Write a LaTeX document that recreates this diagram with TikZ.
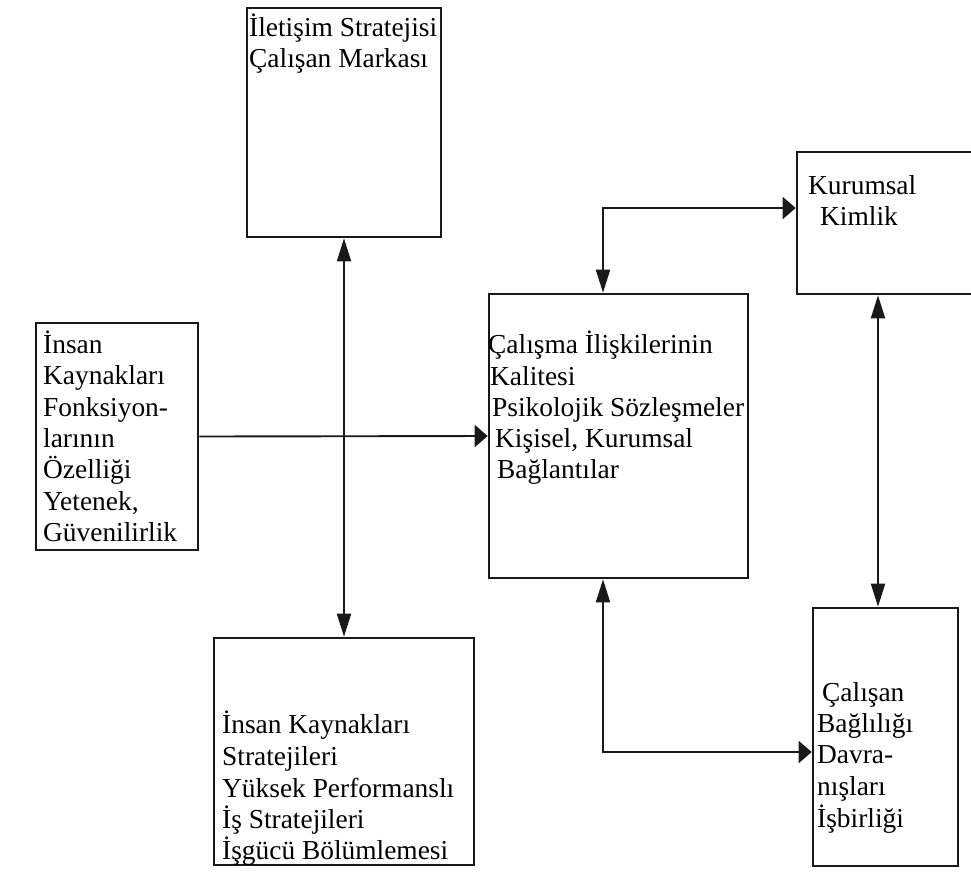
\documentclass[tikz,border=0pt]{standalone}
\usepackage{fontspec}
\setmainfont{Liberation Serif}
\usetikzlibrary{arrows.meta}
\begin{document}
\begin{tikzpicture}[x=1pt,y=-1pt,
  box/.style={draw=black!90, line width=2.6pt, rectangle, inner sep=0pt},
  txt/.style={anchor=base west, inner sep=0pt, font=\fontsize{27.4}{31.3}\selectfont},
  link/.style={line width=1.9pt, draw=black!90},
  vtip/.tip={Triangle[length=23pt,width=14pt]},
  htip/.tip={Triangle[length=13pt,width=22pt]}]
\useasboundingbox (0,0) rectangle (971,871);
\clip (0,0) rectangle (971,871);

% boxes
\node[box, minimum width=194pt, minimum height=229pt] (A) at (344,122.5) {};
\node[box, minimum width=162pt, minimum height=227pt] (B) at (117,436.5) {};
\node[box, minimum width=259pt, minimum height=284pt] (C) at (618.5,436) {};
\node[box, minimum width=188pt, minimum height=142pt] (D) at (891,223) {};
\node[box, minimum width=145pt, minimum height=258pt] (E) at (885.5,737) {};
\node[box, minimum width=260pt, minimum height=227pt] (F) at (344,751.5) {};

% texts
\node[txt] (a1) at (249,36) {İletişim Stratejisi};
\node[txt] (a2) at (249,67) {Çalışan Markası};

\node[txt] (b1) at (43,353) {İnsan};
\node[txt] (b2) at (43,384) {Kaynakları};
\node[txt] (b3) at (43,416) {Fonksiyon-};
\node[txt] (b4) at (43,447) {larının};
\node[txt] (b5) at (43,478) {Özelliği};
\node[txt] (b6) at (43,510) {Yetenek,};
\node[txt] (b7) at (43,541) {Güvenilirlik};

\node[txt] (c1) at (488,353) {Çalışma İlişkilerinin};
\node[txt] (c2) at (490,385) {Kalitesi};
\node[txt] (c3) at (492,416) {Psikolojik Sözleşmeler};
\node[txt] (c4) at (495,447) {Kişisel, Kurumsal};
\node[txt] (c5) at (497,478) {Bağlantılar};

\node[txt] (d1) at (808,194) {Kurumsal};
\node[txt] (d2) at (820,225) {Kimlik};

\node[txt] (e1) at (822,701) {Çalışan};
\node[txt] (e2) at (817,732) {Bağlılığı};
\node[txt] (e3) at (817,763) {Davra-};
\node[txt] (e4) at (817,795) {nışları};
\node[txt] (e5) at (817,827) {İşbirliği};

\node[txt] (f1) at (222,733) {İnsan Kaynakları};
\node[txt] (f2) at (222,765) {Stratejileri};
\node[txt] (f3) at (222,797) {Yüksek Performanslı};
\node[txt] (f4) at (222,828) {İş Stratejileri};
\node[txt] (f5) at (222,859) {İşgücü Bölümlemesi};

% connectors
\draw[link, vtip-vtip] (A.south) -- (F.north);
\draw[link, -htip] (B.east) -- (C.west);
\draw[link, vtip-htip] (603,0 |- C.north) |- (D.west |- 0,208);
\draw[link, vtip-vtip] (878,0 |- D.south) -- (878,0 |- E.north);
\draw[link, vtip-htip] (603,0 |- C.south) |- (E.west |- 0,752);
\end{tikzpicture}
\end{document}
